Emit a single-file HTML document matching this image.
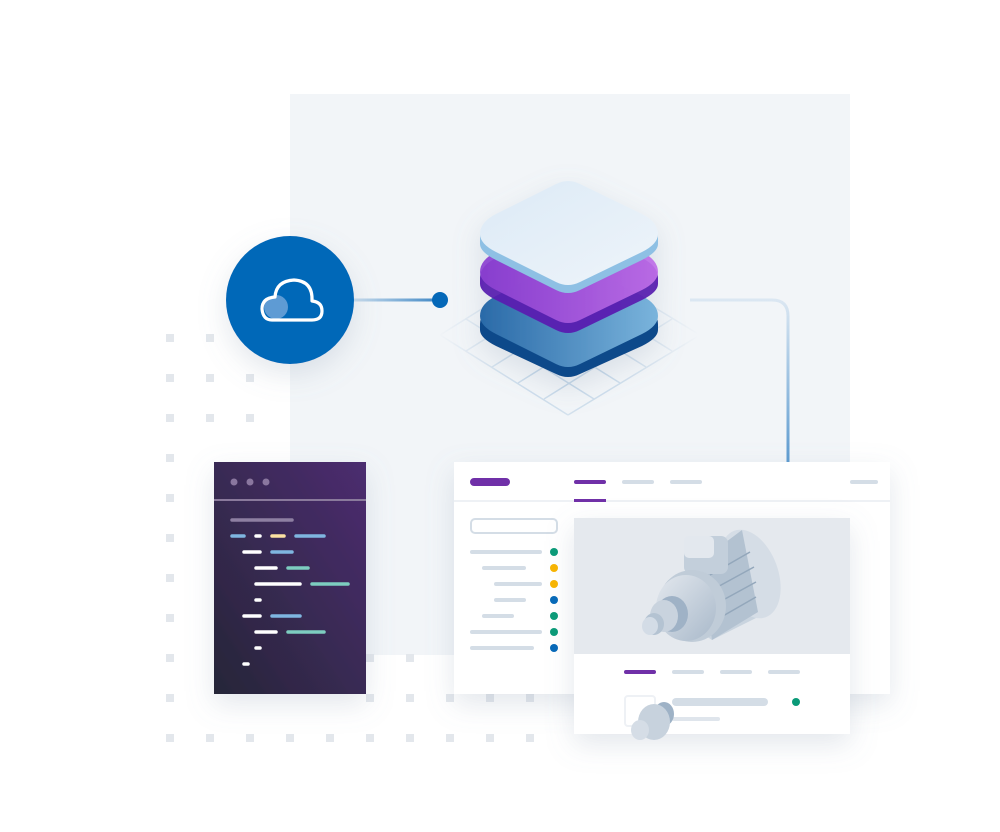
<!DOCTYPE html>
<html><head><meta charset="utf-8"><style>
html,body{margin:0;padding:0;background:#fff;width:1000px;height:832px;overflow:hidden}
</style></head><body>
<svg width="1000" height="832" viewBox="0 0 1000 832" xmlns="http://www.w3.org/2000/svg">
<defs>
<linearGradient id="code" x1="1" y1="0" x2="0" y2="1"><stop offset="0" stop-color="#4c2d70"/><stop offset="1" stop-color="#262638"/></linearGradient>
<linearGradient id="topL" x1="0" y1="0" x2="1" y2="1"><stop offset="0" stop-color="#dceaf6"/><stop offset="1" stop-color="#eef4fa"/></linearGradient>
<linearGradient id="purL" x1="0" y1="0" x2="1" y2="0"><stop offset="0" stop-color="#8a3fd0"/><stop offset="1" stop-color="#c070e8"/></linearGradient>
<linearGradient id="bluL" x1="0" y1="0" x2="1" y2="0"><stop offset="0" stop-color="#2a6aa8"/><stop offset="1" stop-color="#7ab4dc"/></linearGradient>
<linearGradient id="vline" gradientUnits="userSpaceOnUse" x1="0" y1="300" x2="0" y2="462"><stop offset="0" stop-color="#dbe7f2"/><stop offset="1" stop-color="#5d9bd0"/></linearGradient>
<linearGradient id="hline" gradientUnits="userSpaceOnUse" x1="354" y1="0" x2="440" y2="0"><stop offset="0" stop-color="#c8dced"/><stop offset="1" stop-color="#3e86c4"/></linearGradient>
<linearGradient id="metal" x1="0" y1="0" x2="1" y2="1"><stop offset="0" stop-color="#e3e8ee"/><stop offset="1" stop-color="#a9b9ca"/></linearGradient>
<radialGradient id="gridfade" cx="568" cy="335" r="130" gradientUnits="userSpaceOnUse"><stop offset="0.4" stop-color="#fff" stop-opacity="1"/><stop offset="1" stop-color="#fff" stop-opacity="0"/></radialGradient>
<mask id="gm"><rect x="400" y="230" width="340" height="200" fill="url(#gridfade)"/></mask>
<filter id="sh" x="-30%" y="-30%" width="160%" height="160%"><feDropShadow dx="0" dy="10" stdDeviation="14" flood-color="#8090a8" flood-opacity="0.22"/></filter>
</defs>
<rect x="290" y="94" width="560" height="561" fill="#f2f5f8"/>
<g fill="#e3e7ec">
<rect x="166" y="334" width="8" height="8"/><rect x="206" y="334" width="8" height="8"/><rect x="246" y="334" width="8" height="8"/>
<rect x="166" y="374" width="8" height="8"/><rect x="206" y="374" width="8" height="8"/><rect x="246" y="374" width="8" height="8"/>
<rect x="166" y="414" width="8" height="8"/><rect x="206" y="414" width="8" height="8"/><rect x="246" y="414" width="8" height="8"/>
<rect x="166" y="454" width="8" height="8"/><rect x="166" y="494" width="8" height="8"/><rect x="166" y="534" width="8" height="8"/>
<rect x="166" y="574" width="8" height="8"/><rect x="166" y="614" width="8" height="8"/><rect x="166" y="654" width="8" height="8"/>
<rect x="166" y="694" width="8" height="8"/><rect x="166" y="734" width="8" height="8"/>
<rect x="206" y="734" width="8" height="8"/><rect x="246" y="734" width="8" height="8"/><rect x="286" y="734" width="8" height="8"/><rect x="326" y="734" width="8" height="8"/><rect x="366" y="734" width="8" height="8"/><rect x="406" y="734" width="8" height="8"/><rect x="446" y="734" width="8" height="8"/><rect x="486" y="734" width="8" height="8"/><rect x="526" y="734" width="8" height="8"/>
<rect x="366" y="694" width="8" height="8"/><rect x="406" y="694" width="8" height="8"/><rect x="446" y="694" width="8" height="8"/><rect x="486" y="694" width="8" height="8"/><rect x="526" y="694" width="8" height="8"/>
<rect x="366" y="654" width="8" height="8"/><rect x="406" y="654" width="8" height="8"/>
</g>
<!-- grid under stack -->
<g stroke="#c4d7e8" stroke-width="1.5" mask="url(#gm)">
<path d="M440 335 L568 255 M466 351 L594 271 M492 367 L620 287 M518 383 L646 303 M544 399 L672 319 M568 415 L700 335"/>
<path d="M440 335 L568 415 M466 319 L594 399 M492 303 L620 383 M518 287 L646 367 M544 271 L672 351 M568 255 L700 335"/>
</g>
<!-- connectors -->
<line x1="354" y1="300" x2="440" y2="300" stroke="url(#hline)" stroke-width="3"/>
<circle cx="440" cy="300" r="8" fill="#0568b8"/>
<path d="M690 300 H772 Q788 300 788 316 V462" fill="none" stroke="url(#vline)" stroke-width="3"/>
<!-- stack -->
<g filter="url(#sh)">
<path d="M480 324 Q480 312 496 304 L556 272 Q568 266 580 272 L642 304 Q658 312 658 324 L658 330 Q658 338 642 346 L580 374 Q568 380 556 374 L496 346 Q480 338 480 330 Z" fill="#0d4a8a"/>
<path d="M480 316 Q480 304 496 296 L556 264 Q568 258 580 264 L642 296 Q658 304 658 316 Q658 326 642 334 L580 364 Q568 370 556 364 L496 334 Q480 326 480 316 Z" fill="url(#bluL)"/>
<path d="M480 278 Q480 266 496 258 L556 226 Q568 220 580 226 L642 258 Q658 266 658 278 L658 284 Q658 292 642 300 L580 330 Q568 336 556 330 L496 300 Q480 292 480 284 Z" fill="#5a1eb0" opacity="0.95"/>
<path d="M480 272 Q480 260 496 252 L556 220 Q568 214 580 220 L642 252 Q658 260 658 272 Q658 282 642 290 L580 320 Q568 326 556 320 L496 290 Q480 282 480 272 Z" fill="url(#purL)" opacity="0.92"/>
<path d="M480 238 Q480 226 496 218 L556 186 Q568 180 580 186 L642 218 Q658 226 658 238 L658 244 Q658 252 642 260 L580 290 Q568 296 556 290 L496 260 Q480 252 480 244 Z" fill="#8ec0e4"/>
<path d="M480 234 Q480 222 496 214 L556 184 Q568 178 580 184 L642 214 Q658 222 658 234 Q658 244 642 252 L580 282 Q568 288 556 282 L496 252 Q480 244 480 234 Z" fill="url(#topL)"/>
</g>
<!-- cloud circle -->
<circle cx="290" cy="300" r="64" fill="#0568b8" filter="url(#sh)"/>
<circle cx="276" cy="307" r="12" fill="#5e9bd4"/>
<path d="M272 320 H312 Q322 320 322 311 Q322 302 312 301 Q313 281 294 280 Q276 281 275 297 Q262 298 262 309 Q263 320 272 320 Z" fill="none" stroke="#fff" stroke-width="3.2" stroke-linejoin="round"/>
<!-- code panel -->
<g filter="url(#sh)"><rect x="214" y="462" width="152" height="232" fill="url(#code)"/></g>
<g fill="#8a779f"><circle cx="234" cy="482" r="3.5"/><circle cx="250" cy="482" r="3.5"/><circle cx="266" cy="482" r="3.5"/></g>
<rect x="214" y="499" width="152" height="2" fill="#8a7a9c"/>
<g stroke-linecap="round" stroke-width="3.5">
<line x1="232" y1="520" x2="292" y2="520" stroke="#8e7fa2"/>
<line x1="232" y1="536" x2="244" y2="536" stroke="#7fb6e0"/><line x1="256" y1="536" x2="260" y2="536" stroke="#fff"/><line x1="272" y1="536" x2="284" y2="536" stroke="#fde2a2"/><line x1="296" y1="536" x2="324" y2="536" stroke="#7fb6e0"/>
<line x1="244" y1="552" x2="260" y2="552" stroke="#fff"/><line x1="272" y1="552" x2="292" y2="552" stroke="#7fb6e0"/>
<line x1="256" y1="568" x2="276" y2="568" stroke="#fff"/><line x1="288" y1="568" x2="308" y2="568" stroke="#7dcdc0"/>
<line x1="256" y1="584" x2="300" y2="584" stroke="#fff"/><line x1="312" y1="584" x2="348" y2="584" stroke="#7dcdc0"/>
<line x1="256" y1="600" x2="260" y2="600" stroke="#fff"/>
<line x1="244" y1="616" x2="260" y2="616" stroke="#fff"/><line x1="272" y1="616" x2="300" y2="616" stroke="#7fb6e0"/>
<line x1="256" y1="632" x2="276" y2="632" stroke="#fff"/><line x1="288" y1="632" x2="324" y2="632" stroke="#7dcdc0"/>
<line x1="256" y1="648" x2="260" y2="648" stroke="#fff"/>
<line x1="244" y1="664" x2="248" y2="664" stroke="#fff"/>
</g>
<!-- window -->
<g filter="url(#sh)"><rect x="454" y="462" width="436" height="232" fill="#fff"/></g>
<rect x="454" y="500" width="436" height="2" fill="#eef1f5"/>
<g stroke-linecap="round" stroke-width="4">
<line x1="474" y1="482" x2="506" y2="482" stroke="#7030a8" stroke-width="8"/>
<line x1="576" y1="482" x2="604" y2="482" stroke="#7030a8"/>
<line x1="624" y1="482" x2="652" y2="482" stroke="#d4dde6"/><line x1="672" y1="482" x2="700" y2="482" stroke="#d4dde6"/><line x1="852" y1="482" x2="876" y2="482" stroke="#d4dde6"/>
</g>
<rect x="574" y="499" width="32" height="3" fill="#7030a8"/>
<rect x="471" y="519" width="86" height="14" rx="4" fill="none" stroke="#d4dde6" stroke-width="2"/>
<g stroke="#d4dde6" stroke-width="4" stroke-linecap="round">
<line x1="472" y1="552" x2="540" y2="552"/><line x1="484" y1="568" x2="524" y2="568"/><line x1="496" y1="584" x2="540" y2="584"/><line x1="496" y1="600" x2="524" y2="600"/><line x1="484" y1="616" x2="512" y2="616"/><line x1="472" y1="632" x2="540" y2="632"/><line x1="472" y1="648" x2="532" y2="648"/>
</g>
<g><circle cx="554" cy="552" r="4" fill="#0a9a78"/><circle cx="554" cy="568" r="4" fill="#f8b400"/><circle cx="554" cy="584" r="4" fill="#f8b400"/><circle cx="554" cy="600" r="4" fill="#0568b8"/><circle cx="554" cy="616" r="4" fill="#0a9a78"/><circle cx="554" cy="632" r="4" fill="#0a9a78"/><circle cx="554" cy="648" r="4" fill="#0568b8"/></g>
<!-- card -->
<g filter="url(#sh)"><rect x="574" y="518" width="276" height="216" fill="#fff"/></g>
<rect x="574" y="518" width="276" height="136" fill="#e5e9ee"/>
<g stroke-linecap="round" stroke-width="4">
<line x1="626" y1="672" x2="654" y2="672" stroke="#7030a8"/><line x1="674" y1="672" x2="702" y2="672" stroke="#d4dde6"/><line x1="722" y1="672" x2="750" y2="672" stroke="#d4dde6"/><line x1="770" y1="672" x2="798" y2="672" stroke="#d4dde6"/>
<line x1="676" y1="702" x2="764" y2="702" stroke="#d4dde6" stroke-width="8"/>
<line x1="674" y1="719" x2="718" y2="719" stroke="#dfe5ec"/>
</g>
<circle cx="796" cy="702" r="4" fill="#0a9a78"/>
<rect x="625" y="696" width="30" height="30" rx="3" fill="none" stroke="#eef1f5" stroke-width="2"/>
<!-- motor -->
<g>
<path d="M700 632 L748 612 L760 606 L760 616 L712 640 Z" fill="#c9d4df"/>
<ellipse cx="750" cy="574" rx="28" ry="46" transform="rotate(-20 750 574)" fill="#d5dde6"/>
<path d="M702 560 L742 530 L758 612 L712 640 Z" fill="#b3c2d1"/>
<g stroke="#93a7bb" stroke-width="1.5"><line x1="710" y1="575" x2="750" y2="552"/><line x1="712" y1="590" x2="754" y2="567"/><line x1="714" y1="605" x2="756" y2="582"/><line x1="716" y1="620" x2="756" y2="597"/></g>
<rect x="684" y="536" width="44" height="38" rx="7" fill="#c3cfdb"/>
<rect x="684" y="536" width="30" height="22" rx="5" fill="#e3e8ee"/>
<ellipse cx="692" cy="606" rx="34" ry="36" fill="#c0ccd8"/>
<ellipse cx="686" cy="608" rx="30" ry="33" fill="url(#metal)"/>
<ellipse cx="672" cy="614" rx="16" ry="18" fill="#9fb2c6"/>
<ellipse cx="664" cy="616" rx="14" ry="16" fill="#c9d3de"/>
<ellipse cx="654" cy="624" rx="10" ry="11" fill="#b4c3d2"/>
<ellipse cx="650" cy="626" rx="8" ry="9" fill="#d3dce6"/>
</g>
<!-- small motor part -->
<g>
<ellipse cx="664" cy="714" rx="10" ry="12" fill="#9eb2c6"/>
<ellipse cx="654" cy="722" rx="16" ry="18" fill="#c7d2dd"/>
<ellipse cx="640" cy="730" rx="9" ry="10" fill="#d5dde6"/>
</g>
</svg>
</body></html>
